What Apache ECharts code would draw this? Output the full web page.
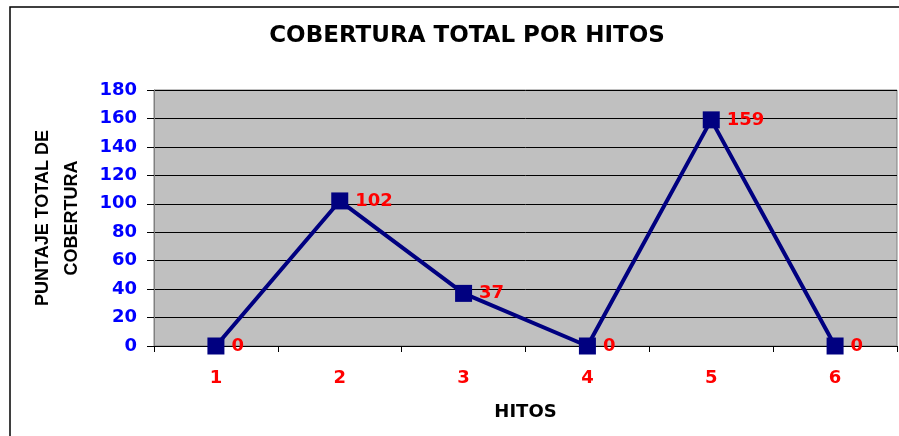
<!DOCTYPE html>
<html>
<head>
<meta charset="utf-8">
<script src="https://cdn.jsdelivr.net/npm/echarts@6/dist/echarts.min.js"></script>
<style>
  html, body { margin: 0; padding: 0; background: #fff; }
  #main { width: 899px; height: 436px; }
</style>
</head>
<body>
<div id="main"></div>
<script>
var hitos = ['1', '2', '3', '4', '5', '6'];
var puntaje = [0, 102, 37, 0, 159, 0];

var wide = 'DejaVu Sans, Arial, sans-serif';
var chart = echarts.init(document.getElementById('main'));

var option = {
  animation: false,
  title: {
    text: 'COBERTURA TOTAL POR HITOS',
    left: 462,
    textAlign: 'center',
    top: 20,
    textStyle: {
      fontFamily: wide,
      fontSize: 23,
      fontWeight: 'bold',
      color: '#000'
    }
  },
  graphic: [{
    type: 'rect',
    shape: { x: 10, y: 7, width: 900, height: 440 },
    style: { fill: 'none', stroke: '#000', lineWidth: 1.5 },
    z: -1
  }],
  grid: {
    left: 154,
    right: 2,
    top: 90,
    bottom: 90,
    outerBoundsMode: 'none',
    containLabel: false,
    show: true,
    backgroundColor: '#C0C0C0',
    borderColor: '#808080',
    borderWidth: 1
  },
  xAxis: {
    type: 'category',
    data: hitos,
    boundaryGap: true,
    name: 'HITOS',
    nameLocation: 'middle',
    nameGap: 57,
    nameTextStyle: {
      fontFamily: wide,
      fontSize: 18,
      fontWeight: 'bold',
      color: '#000'
    },
    axisLine: { lineStyle: { color: '#000', width: 1 } },
    axisTick: { show: true, interval: 0, length: 6, lineStyle: { color: '#000' } },
    axisLabel: {
      margin: 23,
      fontFamily: wide,
      fontSize: 18,
      fontWeight: 'bold',
      color: '#FF0000'
    }
  },
  yAxis: {
    type: 'value',
    min: 0,
    max: 180,
    interval: 20,
    name: 'PUNTAJE TOTAL DE\nCOBERTURA',
    nameLocation: 'middle',
    nameRotate: 90,
    nameGap: 67,
    nameTextStyle: {
      fontFamily: 'Liberation Sans, Arial, sans-serif',
      fontSize: 18,
      fontWeight: 'bold',
      color: '#000',
      lineHeight: 29
    },
    axisLine: { show: true, lineStyle: { color: '#808080', width: 1 } },
    axisTick: { show: true, length: 7, lineStyle: { color: '#000' } },
    splitLine: { show: true, lineStyle: { color: '#000', width: 1 } },
    axisLabel: {
      margin: 17,
      fontFamily: wide,
      fontSize: 18,
      fontWeight: 'bold',
      color: '#0000FF'
    }
  },
  series: [{
    type: 'line',
    data: puntaje,
    symbol: 'rect',
    symbolSize: 17,
    lineStyle: { color: '#000080', width: 4 },
    itemStyle: { color: '#000080' },
    label: {
      show: true,
      position: 'right',
      distance: 7,
      fontFamily: wide,
      fontSize: 18,
      fontWeight: 'bold',
      color: '#FF0000'
    }
  }]
};

chart.setOption(option);
</script>
</body>
</html>
